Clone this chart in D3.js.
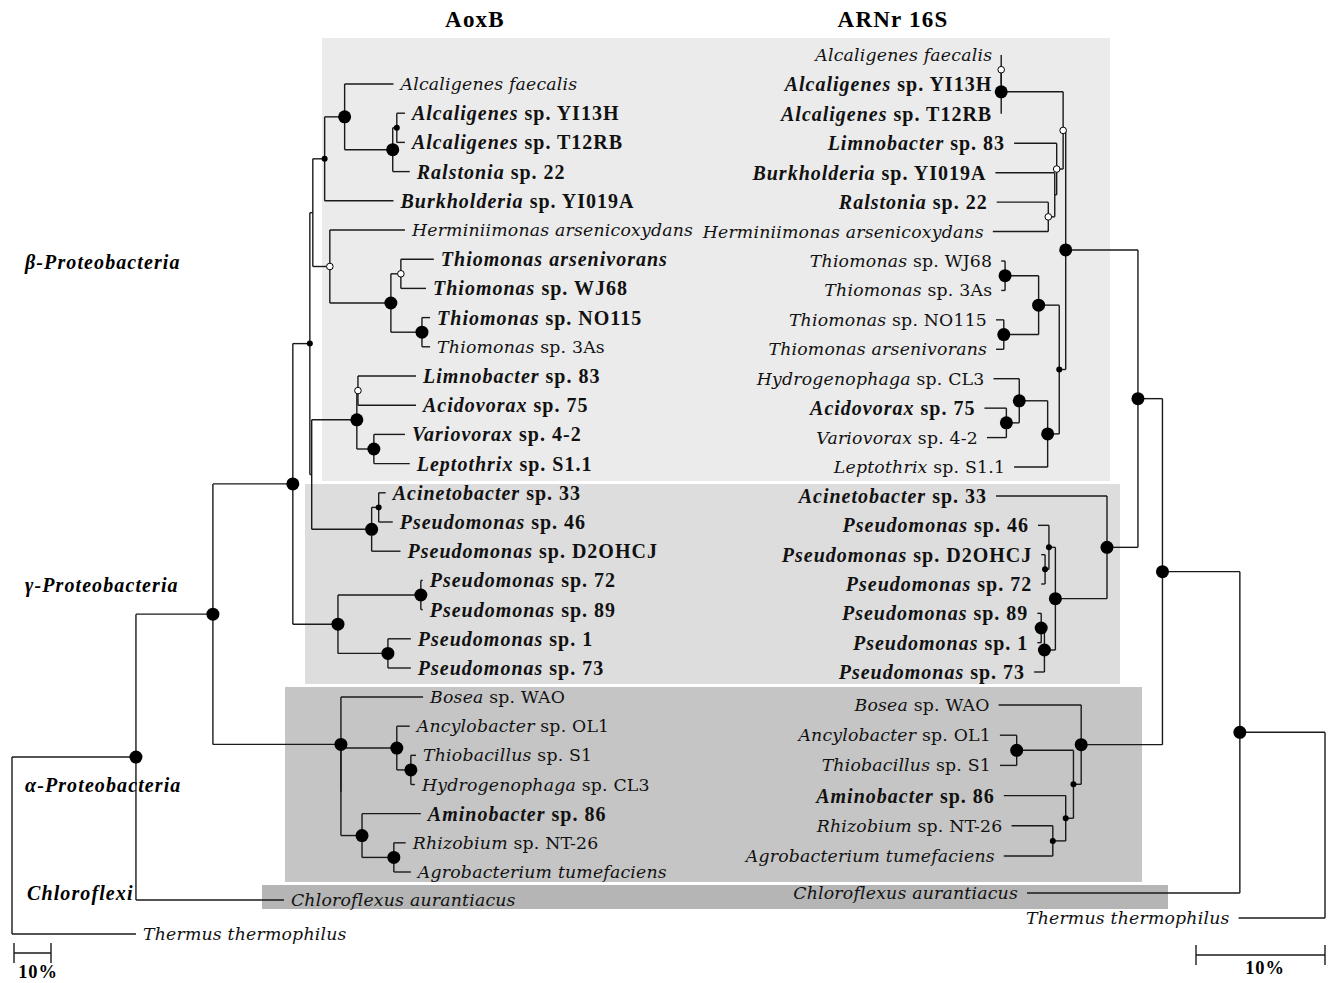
<!DOCTYPE html>
<html><head><meta charset="utf-8">
<script src="https://cdn.jsdelivr.net/npm/d3@7"></script>
<style>body{margin:0;background:#fff}</style>
</head><body><svg id="c" width="1336" height="983"></svg>
<script>
// ---------- DATA ----------
// taxon id, genus (italic), remainder, remainder italic?
const taxa = [
  ["Afae","Alcaligenes","faecalis",true],
  ["AYI13H","Alcaligenes","sp. YI13H",false],
  ["AT12RB","Alcaligenes","sp. T12RB",false],
  ["Ral","Ralstonia","sp. 22",false],
  ["Burk","Burkholderia","sp. YI019A",false],
  ["Herm","Herminiimonas","arsenicoxydans",true],
  ["Tars","Thiomonas","arsenivorans",true],
  ["WJ68","Thiomonas","sp. WJ68",false],
  ["NO115","Thiomonas","sp. NO115",false],
  ["As3","Thiomonas","sp. 3As",false],
  ["Limno","Limnobacter","sp. 83",false],
  ["Acido","Acidovorax","sp. 75",false],
  ["Vario","Variovorax","sp. 4-2",false],
  ["Lepto","Leptothrix","sp. S1.1",false],
  ["Acin","Acinetobacter","sp. 33",false],
  ["Ps46","Pseudomonas","sp. 46",false],
  ["D2","Pseudomonas","sp. D2OHCJ",false],
  ["Ps72","Pseudomonas","sp. 72",false],
  ["Ps89","Pseudomonas","sp. 89",false],
  ["Ps1","Pseudomonas","sp. 1",false],
  ["Ps73","Pseudomonas","sp. 73",false],
  ["Bosea","Bosea","sp. WAO",false],
  ["Ancy","Ancylobacter","sp. OL1",false],
  ["Thiob","Thiobacillus","sp. S1",false],
  ["Hydro","Hydrogenophaga","sp. CL3",false],
  ["Amino","Aminobacter","sp. 86",false],
  ["Rhiz","Rhizobium","sp. NT-26",false],
  ["Agro","Agrobacterium","tumefaciens",true],
  ["Chloro","Chloroflexus","aurantiacus",true],
  ["Therm","Thermus","thermophilus",true]
];
const boldAoxB = ["AYI13H","AT12RB","Ral","Burk","Tars","WJ68","NO115","Limno","Acido","Vario","Lepto","Acin","Ps46","D2","Ps72","Ps89","Ps1","Ps73","Amino"];
const boldRNA  = ["AYI13H","AT12RB","Limno","Burk","Ral","Acido","Acin","Ps46","D2","Ps72","Ps89","Ps1","Ps73","Amino"];

// branch lengths in % ; internal labels = node marker (big / sm / op)
const treeAoxB = "((((((((Afae:13.2,((AYI13H:2.2,AT12RB:2.2)sm:1.1,Ral:4.6)big:13.0)big:5.4,Burk:18.6)sm:3.2,(Herm:20.3,((Tars:8.9,WJ68:6.8)op:2.7,(NO115:2.2,As3:2.2)big:8.4)big:16.5)op:4.6):0.8,(((Limno:15.7,Acido:15.7)op:0.3,(Vario:8.4,Lepto:9.7)big:4.6)big:12.2,((Acin:1.9,Ps46:3.8)sm:1.9,D2:7.8)big:16.2):0.5)sm:4.6,((Ps72:0.5,Ps89:0.5)big:22.4,(Ps1:6.2,Ps73:6.2)big:13.5)big:12.2)big:21.6,(Bosea:22.2,((Ancy:3.5,(Thiob:1.4,Hydro:1.1)big:3.8)big:15.1,(Amino:15.9,(Rhiz:3.2,Agro:4.6)big:8.6)big:5.7):0)big:34.6)big:20.8,Chloro:40.0)big:33.5,Therm:33.5);";

const treeRNA = "((((((((Afae:0,AYI13H:0)op:0,AT12RB:0)big:4.8,(Limno:3.3,(Burk:4.6,(Ral:4.0,Herm:4.3)op:0.5):0.15)op:0.5)op:0.2,(((WJ68:0.3,As3:0.3)big:2.6,(NO115:0.6,Tars:0.6)big:2.7)big:1.6,((Hydro:2.0,(Acido:1.7,Vario:1.5)big:1.0)big:2.2,Lepto:2.6)big:0.9)sm:0.5)big:5.6,(Acin:8.6,((Ps46:0.85,(D2:0.3,Ps72:0.3)sm:0.3)sm:0.5,((Ps89:0.3,Ps1:0.3)big:0.25,Ps73:0.8)big:0.85)big:4.0)big:2.4)big:1.9,(Bosea:6.4,((Ancy:1.3,Thiob:1.3)big:4.4,(Amino:4.8,(Rhiz:3.2,Agro:3.8)sm:1.0)sm:0.6)sm:0.6)big:6.3)big:6.0,Chloro:16.5)big:6.6,Therm:6.7);";

const titles = ["AoxB","ARNr 16S"];
const groups = ["β-Proteobacteria","γ-Proteobacteria","α-Proteobacteria","Chloroflexi"];
const scaleLabel = "10%";
const scaleValue = 10;

// ---------- PARSER ----------
function parseNewick(s){
  let i=0;
  function node(){
    const n={};
    if(s[i]==='('){
      i++; n.children=[node()];
      while(s[i]===','){i++; n.children.push(node());}
      if(s[i]!==')') throw new Error('bad newick at '+i);
      i++;
    }
    let name=''; while(i<s.length && !':,);'.includes(s[i])) name+=s[i++];
    n.name=name;
    n.length=0;
    if(s[i]===':'){i++; let num=''; while(i<s.length && !',);'.includes(s[i])) num+=s[i++]; n.length=+num;}
    return n;
  }
  return node();
}

// ---------- DRAW ----------
const svg = d3.select("#c");
const taxMap = new Map(taxa.map(t=>[t[0],t]));

// shaded group boxes
const boxes = [
  {x0:322,x1:1110,y0:38,y1:481,c:"#ebebeb"},
  {x0:305,x1:1120,y0:484,y1:684,c:"#dddddd"},
  {x0:285,x1:1142,y0:687,y1:882,c:"#c5c5c5"},
  {x0:262,x1:1168,y0:885,y1:909,c:"#b5b5b5"}
];
svg.selectAll("rect.box").data(boxes).join("rect").attr("class","box")
  .attr("x",d=>d.x0).attr("y",d=>d.y0).attr("width",d=>d.x1-d.x0).attr("height",d=>d.y1-d.y0).attr("fill",d=>d.c);

function drawTree(nwk, xScale, yScale, side, boldSet){
  const root = d3.hierarchy(parseNewick(nwk));
  root.eachBefore(d=>{ d.dist = d.parent ? d.parent.dist + d.data.length : 0; d.px = xScale(d.dist); });
  root.leaves().forEach((d,k)=>{ d.py = yScale(k); });
  root.eachAfter(d=>{ if(d.children) d.py = (d.children[0].py + d.children[d.children.length-1].py)/2; });
  const g = svg.append("g").attr("fill","none").attr("stroke","#1a1a1a").attr("stroke-width",1.4);
  const segs = [];
  root.each(d=>{
    if(d.parent) segs.push([d.parent.px,d.py,d.px,d.py]);
    if(d.children) segs.push([d.px,d.children[0].py,d.px,d.children[d.children.length-1].py]);
  });
  g.selectAll("line").data(segs).join("line")
    .attr("x1",s=>s[0]).attr("y1",s=>s[1]).attr("x2",s=>s[2]).attr("y2",s=>s[3]);
  const marks = root.descendants().filter(d=>d.children && d.data.name);
  svg.append("g").selectAll("circle").data(marks).join("circle")
    .attr("cx",d=>d.px).attr("cy",d=>d.py)
    .attr("r",d=>d.data.name==="big"?6.5:(d.data.name==="sm"?3:3.3))
    .attr("fill",d=>d.data.name==="op"?"#fff":"#000")
    .attr("stroke","#000").attr("stroke-width",d=>d.data.name==="op"?1:0);
  const tg = svg.append("g");
  root.leaves().forEach(d=>{
    const t = taxMap.get(d.data.name);
    const bold = boldSet.includes(t[0]);
    const txt = tg.append("text")
      .attr("x", side==="L" ? d.px+7 : d.px-9)
      .attr("y", d.py).attr("dy","0.35em")
      .attr("text-anchor", side==="L"?"start":"end")
      .attr("font-family", bold ? "'Liberation Serif', serif" : "'DejaVu Serif', serif")
      .attr("font-size", bold ? 20 : 17.3)
      .attr("letter-spacing", bold ? 1.0 : 0.2)
      .attr("font-weight", bold ? "bold":"normal")
      .attr("fill","#111");
    txt.append("tspan").attr("font-style","italic").text(t[1]);
    txt.append("tspan").attr("font-style", t[3]?"italic":"normal").text(" "+t[2]);
  });
  return root;
}

// left (AoxB) tree: root on the left
const xL = d3.scaleLinear().domain([0,scaleValue]).range([12,49]);
const yL = d3.scaleLinear().domain([0,20,21,27,28,29]).range([84,668,697,872,900,934]);
drawTree(treeAoxB, xL, yL, "L", boldAoxB);

// right (16S rRNA) tree: root on the right
const xR = d3.scaleLinear().domain([0,scaleValue]).range([1325,1196]);
const yR = d3.scaleLinear().domain([0,14,15,21,22,27,28,29]).range([55,467,496,672,705,856,893,918]);
drawTree(treeRNA, xR, yR, "R", boldRNA);

// titles
svg.selectAll("text.title").data(titles).join("text").attr("class","title")
  .attr("x",(d,i)=>[475,893][i]).attr("y",27).attr("text-anchor","middle")
  .attr("font-family","'Liberation Serif', serif").attr("font-weight","bold").attr("font-size",23)
  .attr("letter-spacing",1.2)
  .text(d=>d);

// group labels
svg.selectAll("text.grp").data(groups).join("text").attr("class","grp")
  .attr("x",(d,i)=>i===3?27:25).attr("y",(d,i)=>[262,585,785,893][i]).attr("dy","0.35em")
  .attr("font-family","'Liberation Serif', serif").attr("font-weight","bold").attr("font-style","italic")
  .attr("font-size",20).attr("letter-spacing",1.1).text(d=>d);

// scale bars
function scaleBar(x0, len, y, labelX, labelY){
  const g = svg.append("g").attr("stroke","#1a1a1a").attr("stroke-width",1.4);
  g.append("line").attr("x1",x0).attr("x2",x0+len).attr("y1",y).attr("y2",y);
  g.append("line").attr("x1",x0).attr("x2",x0).attr("y1",y-10).attr("y2",y+10);
  g.append("line").attr("x1",x0+len).attr("x2",x0+len).attr("y1",y-10).attr("y2",y+10);
  svg.append("text").attr("x",labelX).attr("y",labelY).attr("text-anchor","middle")
    .attr("font-family","'Liberation Serif', serif").attr("font-weight","bold").attr("font-size",18.5)
    .attr("letter-spacing",0.8)
    .text(scaleLabel);
}
scaleBar(14, xL(scaleValue)-xL(0), 953, 38, 978);
scaleBar(1196, xR(0)-xR(scaleValue), 955, 1265, 974);
</script></body></html>
